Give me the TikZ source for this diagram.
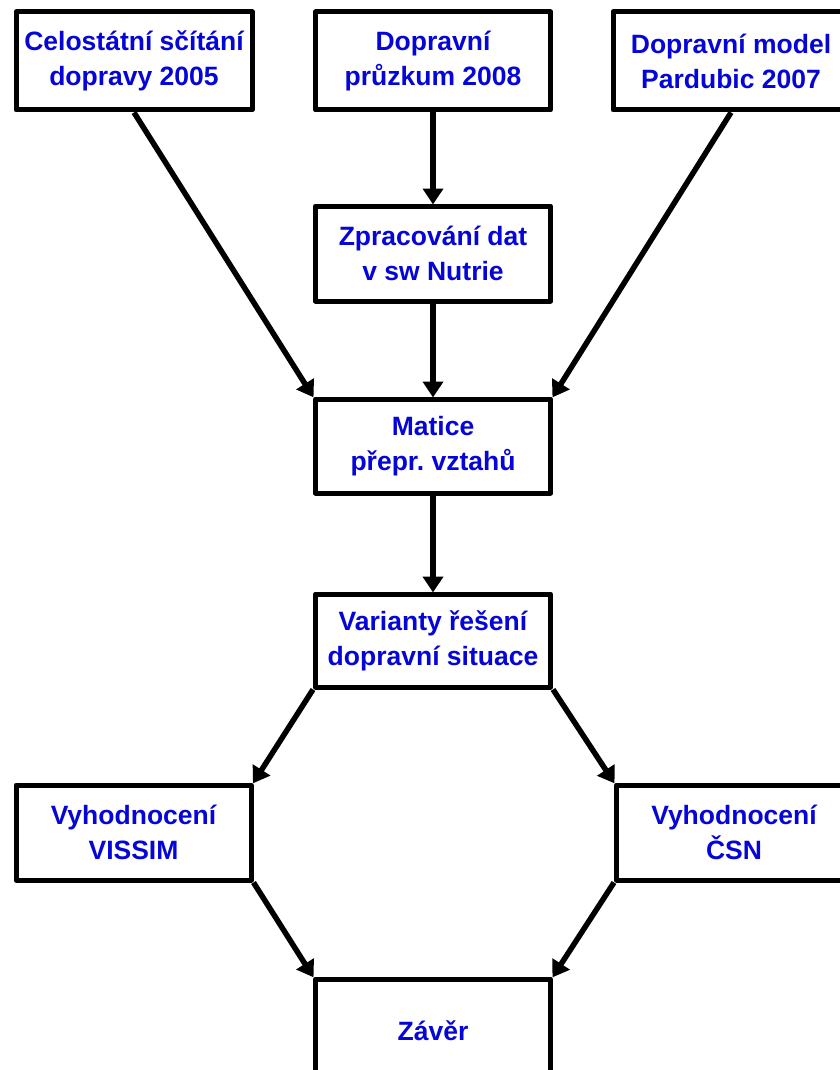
\documentclass[tikz,border=0pt]{standalone}
\usepackage{fontspec}
\setmainfont{Liberation Sans}
\usetikzlibrary{arrows.meta}
\frenchspacing
\definecolor{txtblue}{RGB}{5,5,215}
\tikzset{
  box/.style={draw=black, line width=5pt, line join=round, fill=white, minimum width=235pt, minimum height=96pt,
    inner sep=0pt, align=center, text=txtblue, font=\fontsize{26.5}{35}\selectfont\bfseries},
  conn/.style={line width=5.5pt, -{Triangle[length=16pt,width=20pt]}, shorten >=-1pt}
}
\begin{document}
\begin{tikzpicture}[x=1pt,y=-1pt]
\useasboundingbox (0,0) rectangle (839,1070);
\fill[white] (0,0) rectangle (839,1070);
\node[box, minimum width=236pt, minimum height=98pt] (A) at (134,61) {Celostátní sčítání\\dopravy 2005};
\node[box, minimum height=98pt] (B) at (433,61) {Dopravní\\průzkum 2008};
\node[box, minimum width=236pt, minimum height=98pt] (C) at (731,61) {Dopravní model\\Pardubic 2007};
\node[box, minimum height=95pt] (Z) at (433,253.5) {Zpracování dat\\v sw Nutrie};
\node[box, minimum height=94pt] (M) at (433,446) {Matice\\přepr. vztahů};
\node[box, minimum height=93pt] (V) at (433,640.5) {Varianty řešení\\dopravní situace};
\node[box, minimum height=95pt] (L) at (133.5,832.5) {Vyhodnocení\\VISSIM};
\node[box, minimum height=95pt] (R) at (734,832.5) {Vyhodnocení\\ČSN};
\node[box, minimum height=104pt] (E) at (433,1031) {Závěr};
\draw[conn] (A.south) -- (M.north west);
\draw[conn] (C.south) -- (M.north east);
\draw[conn] (B.south) -- (Z.north);
\draw[conn] (Z.south) -- (M.north);
\draw[conn] (M.south) -- (V.north);
\draw[conn] (V.south west) -- (L.north east);
\draw[conn] (V.south east) -- (R.north west);
\draw[conn] (L.south east) -- (E.north west);
\draw[conn] (R.south west) -- (E.north east);
\end{tikzpicture}
\end{document}
